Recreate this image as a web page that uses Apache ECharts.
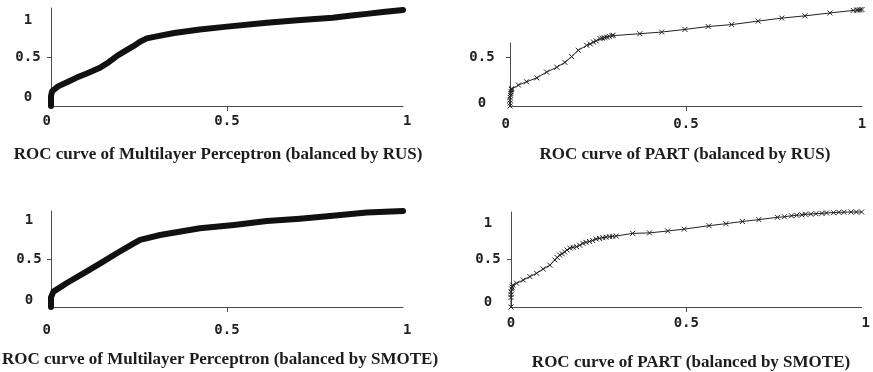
<!DOCTYPE html>
<html>
<head>
<meta charset="utf-8">
<script src="https://cdn.jsdelivr.net/npm/echarts@6/dist/echarts.min.js"></script>
<style>
  html, body { margin: 0; padding: 0; background: #fff; }
  #chart { width: 873px; height: 372px; }
</style>
</head>
<body>
<div id="chart"></div>
<script>
// Tick values shared by every panel (false positive rate / true positive rate)
const axisTicks = [0, 0.5, 1];
const tickMarks = [0.5];

// Panel captions
const titleMlpRus = 'ROC curve of Multilayer Perceptron (balanced by RUS)';
const titlePartRus = 'ROC curve of PART (balanced by RUS)';
const titleMlpSmote = 'ROC curve of Multilayer Perceptron (balanced by SMOTE)';
const titlePartSmote = 'ROC curve of PART (balanced by SMOTE)';

// ROC points as [FPR, TPR]
const mlpRus = [
  [0, 0], [0, 0.05], [0, 0.1], [0.003, 0.15], [0.02, 0.2], [0.05, 0.25], [0.073, 0.29],
  [0.1, 0.33], [0.139, 0.39], [0.165, 0.45], [0.187, 0.51], [0.21, 0.56], [0.234, 0.61],
  [0.255, 0.66], [0.272, 0.69], [0.3, 0.71], [0.35, 0.745], [0.423, 0.78], [0.5, 0.81],
  [0.613, 0.85], [0.7, 0.875], [0.8, 0.9], [0.86, 0.925], [0.897, 0.94], [0.943, 0.96],
  [1, 0.98]
];

const partRus = [
  [0, 0], [0, 0.03], [0, 0.06], [0, 0.09], [0.002, 0.11], [0.002, 0.13], [0.003, 0.15],
  [0.004, 0.17], [0.005, 0.18], [0.024, 0.216], [0.047, 0.25], [0.076, 0.29], [0.104, 0.35],
  [0.133, 0.4], [0.156, 0.45], [0.175, 0.51], [0.194, 0.575], [0.218, 0.626], [0.228, 0.64],
  [0.237, 0.66], [0.245, 0.672], [0.256, 0.695], [0.262, 0.7], [0.268, 0.705], [0.275, 0.71],
  [0.282, 0.718], [0.29, 0.725], [0.293, 0.73], [0.369, 0.746], [0.431, 0.763], [0.497, 0.79],
  [0.563, 0.82], [0.63, 0.84], [0.705, 0.876], [0.772, 0.907], [0.838, 0.93], [0.909, 0.96],
  [0.975, 0.986], [0.985, 0.99], [0.99, 0.99], [0.995, 0.992], [1, 0.995]
];

const mlpSmote = [
  [0, 0], [0, 0.05], [0, 0.1], [0.007, 0.16], [0.045, 0.25], [0.092, 0.35], [0.14, 0.455],
  [0.187, 0.56], [0.234, 0.66], [0.253, 0.7], [0.31, 0.75], [0.423, 0.82], [0.52, 0.855],
  [0.613, 0.895], [0.707, 0.92], [0.8, 0.95], [0.897, 0.985], [1, 1]
];

const partSmote = [
  [0, 0], [0, 0.1], [0, 0.13], [0, 0.16], [0.002, 0.19], [0.003, 0.21], [0.005, 0.23],
  [0.016, 0.25], [0.035, 0.284], [0.054, 0.32], [0.073, 0.355], [0.092, 0.4], [0.111, 0.44],
  [0.125, 0.495], [0.132, 0.52], [0.139, 0.547], [0.146, 0.56], [0.153, 0.58], [0.16, 0.6],
  [0.168, 0.62], [0.177, 0.628], [0.187, 0.635], [0.196, 0.65], [0.205, 0.67], [0.214, 0.68],
  [0.224, 0.69], [0.233, 0.7], [0.243, 0.716], [0.252, 0.722], [0.262, 0.73], [0.271, 0.735],
  [0.281, 0.74], [0.29, 0.744], [0.3, 0.747], [0.347, 0.775], [0.395, 0.78], [0.447, 0.8],
  [0.494, 0.82], [0.565, 0.856], [0.613, 0.877], [0.66, 0.9], [0.707, 0.92], [0.76, 0.944],
  [0.78, 0.95], [0.8, 0.96], [0.815, 0.965], [0.83, 0.97], [0.84, 0.976], [0.855, 0.978],
  [0.87, 0.982], [0.887, 0.986], [0.9, 0.99], [0.92, 0.993], [0.935, 0.997], [0.95, 0.998],
  [0.97, 1], [0.985, 1], [1, 1]
];

const labelFont = 'DejaVu Sans Mono';
const titleFont = 'bold 17px "Liberation Serif", "Times New Roman", serif';
const ink = '#1c1c1c';
const axisInk = '#4a4a4a';
const crossSymbol = 'path://M0 0L10 10M10 0L0 10';

// Layout of the four panels
const panels = [
  { data: mlpRus, title: titleMlpRus, thick: true,
    grid: { left: 51, top: 8, width: 352, height: 98 }, yMax: 1, yLabels: [0, 0.5, 1],
    xMargin: 8, yMargin: 23, lo: 17, hi: 24, minAlign: 'right', maxAlign: 'left',
    tx: 218, ty: 155 },
  { data: partRus, title: titlePartRus, thick: false,
    grid: { left: 510, top: 43, width: 352, height: 63 }, yMax: 0.65, yLabels: [0, 0.5],
    xMargin: 11, yMargin: 28, lo: 6, hi: 0, minAlign: 'right', maxAlign: 'center',
    tx: 685, ty: 155 },
  { data: mlpSmote, title: titleMlpSmote, thick: true,
    grid: { left: 51, top: 211, width: 352, height: 96 }, yMax: 1, yLabels: [0, 0.5, 1],
    xMargin: 16, yMargin: 22, lo: 14, hi: 18, minAlign: 'right', maxAlign: 'left',
    tx: 220, ty: 360 },
  { data: partSmote, title: titlePartSmote, thick: false,
    grid: { left: 511, top: 212, width: 352, height: 95 }, yMax: 1, yLabels: [0, 0.5, 1],
    xMargin: 9, yMargin: 23, lo: 10, hi: 22, minAlign: 'center', maxAlign: 'left',
    tx: 691, ty: 363 }
];

const labelBase = { fontFamily: labelFont, fontSize: 14, fontWeight: 'bold', color: '#222' };

const option = {
  animation: false,
  backgroundColor: '#ffffff',
  grid: panels.map(p => Object.assign({ containLabel: false }, p.grid)),
  xAxis: panels.map((p, i) => ({
    type: 'value', gridIndex: i, min: 0, max: 1, interval: 0.5,
    axisLine: { show: true, onZero: false, lineStyle: { color: axisInk, width: 1 } },
    axisTick: { show: true, customValues: tickMarks, length: 5, lineStyle: { color: axisInk } },
    axisLabel: Object.assign({
      customValues: axisTicks, margin: p.xMargin,
      alignMinLabel: p.minAlign, alignMaxLabel: p.maxAlign,
      formatter: v => String(v)
    }, labelBase),
    splitLine: { show: false }
  })),
  yAxis: panels.map((p, i) => ({
    type: 'value', gridIndex: i, min: 0, max: p.yMax, interval: 0.5,
    axisLine: { show: true, onZero: false, lineStyle: { color: axisInk, width: 1 } },
    axisTick: { show: true, customValues: tickMarks, length: 4, lineStyle: { color: axisInk } },
    axisLabel: Object.assign({
      customValues: p.yLabels, margin: p.yMargin, align: 'center',
      formatter: v => v === 0 ? '{lo|0}' : (v === 1 ? '{hi|1}' : '{mid|' + v + '}'),
      rich: {
        lo: Object.assign({ padding: [0, 0, p.lo, 0] }, labelBase),
        hi: Object.assign({ padding: [p.hi, 0, 0, 0] }, labelBase),
        mid: Object.assign({}, labelBase)
      }
    }, labelBase),
    splitLine: { show: false }
  })),
  series: panels.map((p, i) => p.thick ? {
    type: 'line', xAxisIndex: i, yAxisIndex: i, data: p.data,
    showSymbol: false, clip: false, silent: true,
    lineStyle: { color: '#111', width: 6, cap: 'round', join: 'round' }
  } : {
    type: 'line', xAxisIndex: i, yAxisIndex: i, data: p.data,
    showSymbol: true, showAllSymbol: true, clip: false, silent: true,
    symbol: crossSymbol, symbolSize: 5,
    itemStyle: { color: 'rgba(0,0,0,0)', borderColor: '#222', borderWidth: 1 },
    lineStyle: { color: '#222', width: 1 }
  }),
  graphic: panels.map(p => ({
    type: 'text', x: p.tx, y: p.ty, silent: true,
    style: { text: p.title, font: titleFont, fill: ink, align: 'center', verticalAlign: 'middle' }
  }))
};

const chart = echarts.init(document.getElementById('chart'), null, { renderer: 'canvas' });
chart.setOption(option);
</script>
</body>
</html>
